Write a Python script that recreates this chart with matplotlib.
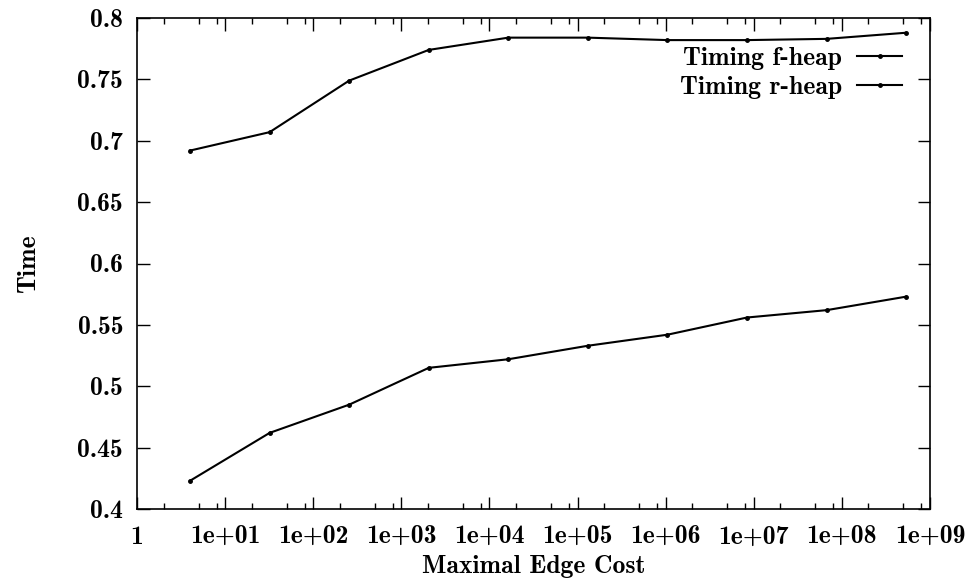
import numpy as np
import matplotlib
matplotlib.use('Agg')
import matplotlib.pyplot as plt
from matplotlib.ticker import FixedLocator, NullFormatter

# edge cost values (powers of 8 times 4)
cost = [4, 32, 256, 2048, 16384, 131072, 1048576, 8388608, 67108864, 536870912]
f_heap = [0.692, 0.707, 0.749, 0.774, 0.784, 0.784, 0.782, 0.782, 0.783, 0.788]
r_heap = [0.423, 0.462, 0.485, 0.515, 0.522, 0.533, 0.542, 0.556, 0.562, 0.573]

xticks = [1, 1e1, 1e2, 1e3, 1e4, 1e5, 1e6, 1e7, 1e8, 1e9]
xlabels = ['1', '1e+01', '1e+02', '1e+03', '1e+04', '1e+05', '1e+06', '1e+07', '1e+08', '1e+09']
yticks = [0.4, 0.45, 0.5, 0.55, 0.6, 0.65, 0.7, 0.75, 0.8]
ylabels = ['0.4', '0.45', '0.5', '0.55', '0.6', '0.65', '0.7', '0.75', '0.8']

plt.rcParams['font.family'] = ['cmb10', 'DejaVu Serif']
plt.rcParams['font.size'] = 18.5
plt.rcParams['axes.unicode_minus'] = False

fig = plt.figure(figsize=(9.72, 5.80), dpi=100)
ax = fig.add_axes([137/972, 1 - 509/580, (930 - 137)/972, (509 - 18)/580])

ax.plot(cost, f_heap, color='black', lw=1.5, marker='o', ms=2.5, label='Timing f-heap')
ax.plot(cost, r_heap, color='black', lw=1.5, marker='o', ms=2.5, label='Timing r-heap')

ax.set_xscale('log')
ax.set_xlim(1, 1e9)
ax.set_ylim(0.4, 0.8)

ax.xaxis.set_major_locator(FixedLocator(xticks))
ax.set_xticklabels(xlabels)
minors = [m * 10**d for d in range(9) for m in (2, 5, 8)]
ax.xaxis.set_minor_locator(FixedLocator(minors))
ax.xaxis.set_minor_formatter(NullFormatter())
ax.set_yticks(yticks)
ax.set_yticklabels(ylabels)

ax.tick_params(which='both', direction='in', top=True, right=True, width=1.0)
ax.tick_params(which='major', length=9)
ax.tick_params(which='minor', length=4.5)
ax.tick_params(axis='x', pad=12)
ax.tick_params(axis='y', pad=10)
for s in ax.spines.values():
    s.set_linewidth(1.2)

ax.set_xlabel('Maximal Edge Cost')
ax.set_ylabel('Time')
ax.xaxis.set_label_coords(0.5, -0.094)
ax.yaxis.set_label_coords(-0.122, 0.5)

ax.legend(loc='upper right', bbox_to_anchor=(0.965, 0.94), frameon=False,
          markerfirst=False, handlelength=1.75, handletextpad=0.6,
          labelspacing=0.22, borderpad=0, borderaxespad=0)

fig.savefig('out.png', dpi=100)
